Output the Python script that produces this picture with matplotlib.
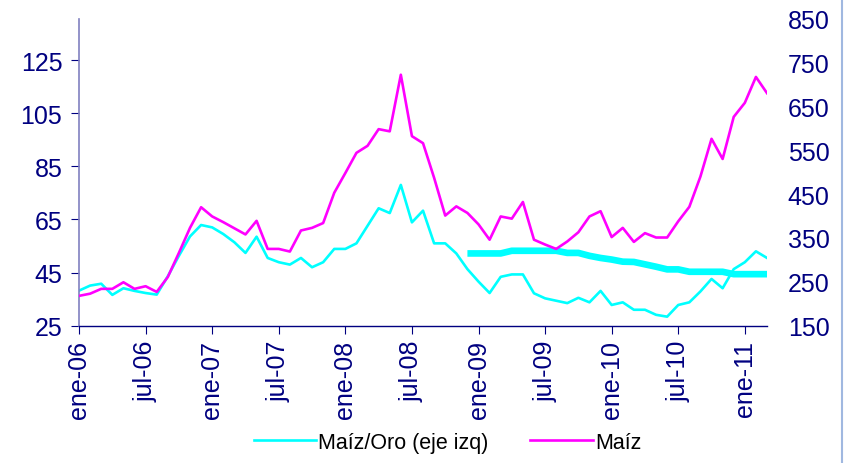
import numpy as np
import matplotlib
matplotlib.use("Agg")
import matplotlib.pyplot as plt
from matplotlib.lines import Line2D

# monthly data, ene-06 .. mar-11
maiz_oro = [38.2, 40.1, 40.8, 36.6, 39.1, 38.1, 37.3, 36.7, 43.6, 51.3, 58.6, 62.9,
            62.0, 59.5, 56.4, 52.4, 58.5, 50.5, 48.9, 48.0, 50.5, 47.0, 48.9, 53.9,
            53.9, 56.0, 62.6, 69.2, 67.4, 78.0, 63.9, 68.3, 56.0, 56.0, 52.2, 46.3,
            41.6, 37.3, 43.4, 44.3, 44.3, 37.2, 35.3, 34.4, 33.5, 35.5, 33.8, 38.1,
            32.8, 33.8, 31.0, 31.0, 29.1, 28.4, 32.8, 33.8, 37.9, 42.6, 39.1, 46.3,
            48.9, 53.0, 50.5]
maiz = [218, 223, 234, 234, 249, 234, 240, 227, 261, 316, 373, 420,
        399, 386, 372, 358, 389, 325, 325, 319, 367, 373, 384, 453,
        498, 544, 560, 598, 593, 722, 582, 566, 487, 401, 422, 407,
        381, 346, 399, 394, 432, 346, 335, 325, 342, 363, 399, 411,
        352, 373, 341, 361, 351, 351, 388, 421, 490, 576, 530, 626,
        658, 717, 680]
# thick line (Maíz/Oro), from dic-08
tend_inicio = 35
tendencia = [52.2, 52.2, 52.2, 52.2, 53.2, 53.2, 53.2, 53.2, 53.2, 52.4, 52.4, 51.3,
             50.5, 49.9, 49.1, 49.0, 48.1, 47.2, 46.2, 46.2, 45.3, 45.3, 45.3, 45.3,
             44.4, 44.4, 44.4, 44.4]
etiquetas = ["ene-06", "jul-06", "ene-07", "jul-07", "ene-08", "jul-08",
             "ene-09", "jul-09", "ene-10", "jul-10", "ene-11"]

navy = "#000080"
plt.rcParams["font.family"] = ["Liberation Sans", "DejaVu Sans"]

x = np.arange(len(maiz))
xt = np.arange(tend_inicio, tend_inicio + len(tendencia))

fig = plt.figure(figsize=(8.48, 4.64), dpi=100)
ax = fig.add_axes([0.0932, 0.2959, 0.8113, 0.6619])
ax2 = ax.twinx()

l1, = ax.plot(x, maiz_oro, color="#00FFFF", lw=1.9)
ax.plot(xt, tendencia, color="#00FFFF", lw=4.8, solid_capstyle="butt")
l2, = ax2.plot(x, maiz, color="#FF00FF", lw=1.9)

ax.set_xlim(0, len(maiz) - 1)
ax.set_ylim(25, 140.6)
ax.set_yticks([25, 45, 65, 85, 105, 125])
ax2.set_ylim(150, 850)
ax2.set_yticks(range(150, 851, 100))
ax.set_xticks(np.arange(0, 61, 6))
ax.set_xticklabels(etiquetas, rotation=90)

for a in (ax, ax2):
    for s in a.spines.values():
        s.set_visible(False)
ax.spines["left"].set_visible(True)
ax.spines["left"].set_color("#8080C0")
ax.spines["left"].set_linewidth(1.2)
ax.spines["bottom"].set_visible(True)
ax.spines["bottom"].set_color(navy)
ax.spines["bottom"].set_linewidth(1.0)

ax.tick_params(axis="y", colors=navy, labelsize=18, length=6, direction="out", pad=6)
ax.tick_params(axis="x", colors=navy, labelsize=18, length=6, direction="out", pad=4)
ax2.tick_params(axis="y", colors=navy, labelsize=18, length=0, pad=15)

fig.legend([l1, l2], ["Maíz/Oro (eje izq)", "Maíz"], loc="center",
           bbox_to_anchor=(0.5277, 0.045), ncol=2, frameon=False,
           handlelength=2.9, columnspacing=1.95, handletextpad=0.1,
           prop={"family": ["Liberation Sans Narrow", "Liberation Sans"], "size": 15.5},
           labelcolor="#000000")

fig.add_artist(Line2D([0.993, 0.993], [0, 1], color="#A0B8E0", lw=1.5))

fig.savefig("out.png", dpi=100)
